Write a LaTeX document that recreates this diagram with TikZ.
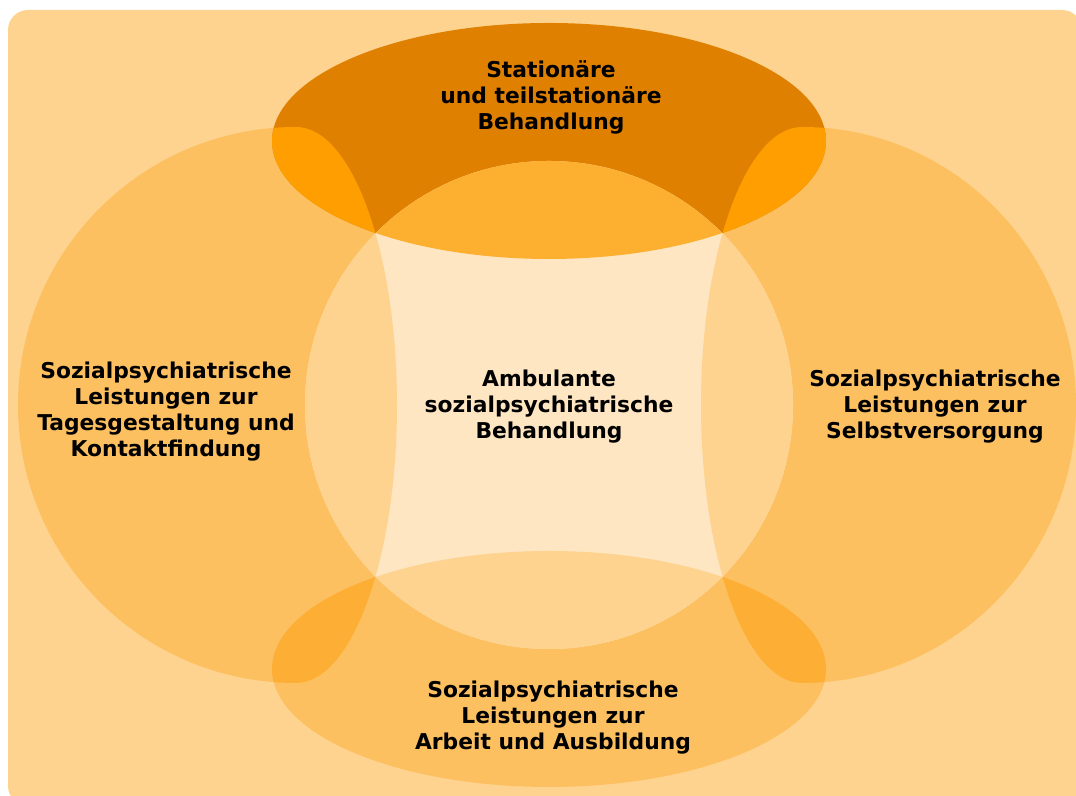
\documentclass[tikz,border=0pt]{standalone}
\usepackage{fontspec}
\setmainfont{DejaVu Sans}
\usepackage{tikz}
\usepackage{xcolor}
\definecolor{PaleOrange}{HTML}{FDD38F}
\definecolor{SoftOrange}{HTML}{FDC060}
\definecolor{DeepOrange}{HTML}{E08000}
\definecolor{BrightOrange}{HTML}{FF9E00}
\definecolor{WarmOrange}{HTML}{FDAE35}
\definecolor{MidOrange}{HTML}{FDAF30}
\definecolor{CreamOrange}{HTML}{FEE6C3}

% the four rings round the middle circle
\newcommand{\LeftPart}{(296,669) arc[start angle=90, end angle=270, radius=278]
    arc[start angle=270, end angle=450, x radius=101, y radius=278] -- cycle}
\newcommand{\RightPart}{(802,669) arc[start angle=90, end angle=-90, x radius=274, y radius=278]
    arc[start angle=-90, end angle=-270, x radius=101, y radius=278] -- cycle}
\newcommand{\TopPart}{(549,655) ellipse[x radius=277, y radius=118]}
\newcommand{\BottomPart}{(549,127) ellipse[x radius=277, y radius=118]}
\newcommand{\MiddlePart}{(549,391) circle[radius=244]}

\begin{document}
\begin{tikzpicture}[
    x=0.5pt, y=0.5pt,
    every node/.style={
        align=center,
        inner sep=0pt,
        text=black,
        font=\bfseries\fontsize{10.9}{13}\selectfont
    }
]

\useasboundingbox (0,0) rectangle (1076,796);
\fill[PaleOrange, rounded corners=10pt] (8,-10) rectangle (1082,786);

% outer rings
\fill[SoftOrange] \LeftPart;
\fill[SoftOrange] \RightPart;
\fill[SoftOrange] \BottomPart;
\begin{scope}
    \clip \BottomPart;
    \fill[WarmOrange] \LeftPart;
    \fill[WarmOrange] \RightPart;
\end{scope}
\fill[DeepOrange] \TopPart;
\begin{scope}
    \clip \TopPart;
    \fill[BrightOrange] \LeftPart;
    \fill[BrightOrange] \RightPart;
\end{scope}

% middle circle
\fill[CreamOrange] \MiddlePart;
\begin{scope}
    \clip \MiddlePart;
    \fill[PaleOrange] \LeftPart;
    \fill[PaleOrange] \RightPart;
    \fill[PaleOrange] \BottomPart;
    \fill[MidOrange] \TopPart;
\end{scope}

\node (stationaer) at (551,699) {Stationäre\\und teilstationäre\\Behandlung};
\node (ambulant) at (549,389) {Ambulante\\sozialpsychiatrische\\Behandlung};
\node (tagesgestaltung) at (166,384) {Sozialpsychiatrische\\Leistungen zur\\Tagesgestaltung und\\Kontaktfindung};
\node (selbstversorgung) at (935,389) {Sozialpsychiatrische\\Leistungen zur\\Selbstversorgung};
\node (arbeit) at (553,78) {Sozialpsychiatrische\\Leistungen zur\\Arbeit und Ausbildung};

\end{tikzpicture}
\end{document}
